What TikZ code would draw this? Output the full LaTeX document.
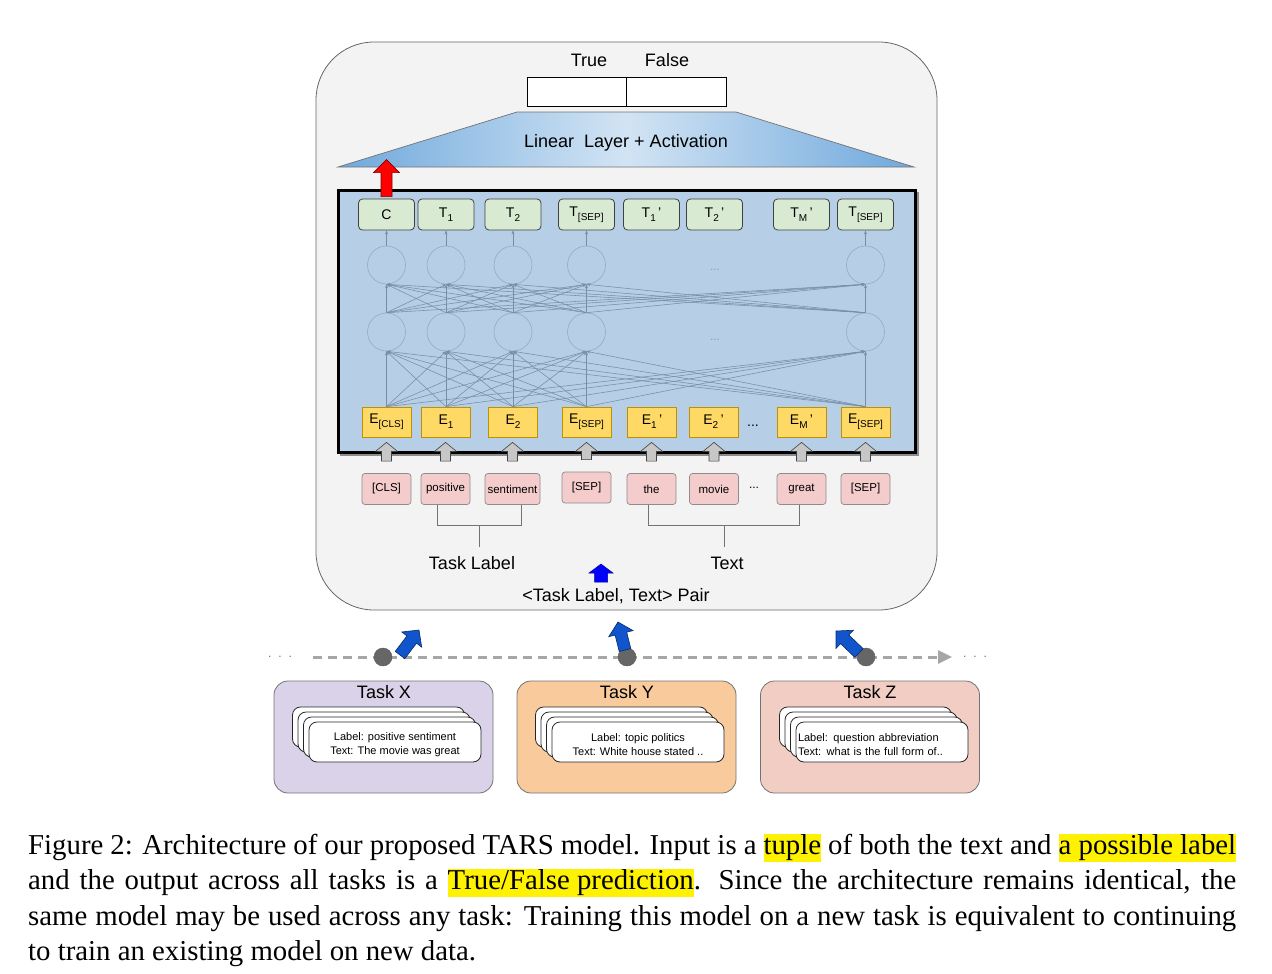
\documentclass[tikz,border=0pt]{standalone}
\usepackage{fontspec}
\setmainfont{Liberation Sans}
\newfontfamily\capfont{Liberation Serif}
\usetikzlibrary{calc,arrows.meta}
\definecolor{bgbox}{RGB}{243,243,243}
\definecolor{netblue}{RGB}{182,207,231}
\definecolor{trapdark}{RGB}{111,168,220}
\definecolor{traplight}{RGB}{210,228,244}
\definecolor{tgreen}{RGB}{217,234,211}
\definecolor{eyellow}{RGB}{255,217,102}
\definecolor{eborder}{RGB}{191,144,0}
\definecolor{tokpink}{RGB}{244,204,204}
\definecolor{netline}{RGB}{118,142,166}
\definecolor{taskx}{RGB}{217,210,233}
\definecolor{tasky}{RGB}{249,203,156}
\definecolor{taskz}{RGB}{242,205,196}
\definecolor{arrblue}{RGB}{17,85,204}
\definecolor{hlyellow}{RGB}{255,242,0}
\newcommand{\fsz}[2]{\fontsize{#1}{#2}\selectfont}
\newcommand{\sub}[1]{\raisebox{-4pt}{\fsz{10}{10}#1}}
\newcommand{\hlt}[1]{{\setlength{\fboxsep}{0pt}\colorbox{hlyellow}{\rule[-7.5pt]{0pt}{28pt}#1}}}
% #1 style, #2 tail, #3 tip, #4 shaft half width, #5 head half width, #6 head length
\newcommand{\fatarrow}[6]{%
  \coordinate (fahead) at ($(#3)!#6!(#2)$);
  \draw[#1] ($(#2)!#4!90:(#3)$) -- ($(fahead)!#4!90:(#3)$) -- ($(fahead)!#5!90:(#3)$)
    -- (#3) -- ($(fahead)!#5!-90:(#3)$) -- ($(fahead)!#4!-90:(#3)$) -- ($(#2)!#4!-90:(#3)$) -- cycle;
}
\tikzset{
  tbox/.style={rectangle, rounded corners=4pt, fill=tgreen, draw=black!75, line width=0.8pt,
    minimum width=56pt, minimum height=31pt, inner sep=0pt, font=\fsz{14}{16}},
  ebox/.style={rectangle, fill=eyellow, draw=eborder, line width=0.8pt,
    minimum width=49pt, minimum height=30pt, inner sep=0pt, font=\fsz{14}{16}},
  tok/.style={rectangle, rounded corners=3pt, fill=tokpink, draw=black!45, line width=0.7pt,
    minimum width=49pt, minimum height=31pt, inner sep=0pt, font=\fsz{11.5}{13}},
  neuron/.style={circle, minimum size=38pt, inner sep=0pt, draw=netline!75, line width=0.6pt},
  netedge/.style={draw=netline, line width=0.55pt, -{Stealth[length=4pt,width=3pt]}},
  grayarr/.style={fill=black!22, draw=black!75, line width=0.6pt},
  redarr/.style={fill=red, draw=red!50!black, line width=0.6pt},
  bluearr/.style={fill=arrblue, draw=arrblue!50!black, line width=0.6pt},
  purearr/.style={fill=blue, draw=blue!60!black, line width=0.5pt},
  bracket/.style={draw=black!55, line width=0.8pt},
  label/.style={inner sep=0pt, font=\fsz{18}{21}},
  taskbox/.style={rectangle, rounded corners=14pt, draw=black!55, line width=0.8pt,
    minimum width=219pt, minimum height=112pt},
  card/.style={rectangle, rounded corners=8pt, fill=white, draw=black!85, line width=0.8pt,
    minimum width=172pt, minimum height=40pt, inner sep=0pt, font=\fsz{11}{14}},
  tdot/.style={circle, fill=black!60, draw=black!65, minimum size=18pt, inner sep=0pt},
  dots/.style={inner sep=0pt, text=black!55, font=\fsz{12}{12}},
  capline/.style={anchor=base west, inner sep=0pt, font=\capfont\fsz{28.8}{35.5}}
}
\begin{document}
\begin{tikzpicture}[x=1pt, y=-1pt]
\useasboundingbox (0,0) rectangle (1272,974);
% main frame
\draw[fill=bgbox, draw=black!60, line width=0.8pt, rounded corners=58pt] (316,42) rectangle (937,610);
% output
\node[rectangle, draw=black, fill=white, line width=0.7pt, minimum width=99.5pt, minimum height=29pt, inner sep=0pt] (outT) at (576.75,91.5) {};
\node[rectangle, draw=black, fill=white, line width=0.7pt, minimum width=99.5pt, minimum height=29pt, inner sep=0pt] (outF) at (676.25,91.5) {};
\node[label] (lTrue) at (589,60) {True};
\node[label] (lFalse) at (667,60) {False};
% linear layer
\shade[left color=trapdark, right color=trapdark, middle color=traplight] (338,167) -- (517,112) -- (736,112) -- (914,167) -- cycle;
\draw[black!55, line width=0.7pt] (338,167) -- (517,112) -- (736,112) -- (914,167) -- cycle;
\node[label] (lin) at (626,143) {Linear\ \ Layer + Activation};
% network box
\draw[black!45, line width=2pt] (341,193) rectangle (918,455);
\draw[fill=netblue, draw=black, line width=3pt] (338,190) rectangle (915,452);
% T nodes
\node[tbox] (t1) at (386.5,214.5) {C};
\node[tbox] (t2) at (446,214.5) {T\sub{1}};
\node[tbox] (t3) at (513,214.5) {T\sub{2}};
\node[tbox] (t4) at (586.5,214.5) {T\sub{[SEP]}};
\node[tbox] (t5) at (651.5,214.5) {T\sub{1}\,'};
\node[tbox] (t6) at (714.5,214.5) {T\sub{2}\,'};
\node[tbox] (t7) at (801.5,214.5) {T\sub{M}\,'};
\node[tbox] (t8) at (865.5,214.5) {T\sub{[SEP]}};
% neurons
\foreach \i/\x in {1/386.5, 2/446, 3/513, 4/586.5, 8/865.5}{
  \node[neuron] (uc\i) at (\x,265) {};
  \node[neuron] (lc\i) at (\x,332) {};
}
\node[dots, text=black!40] (ndots1) at (715,270) {...};
\node[dots, text=black!40] (ndots2) at (715,340) {...};
% E nodes
\node[ebox] (e1) at (386.5,422) {E\sub{[CLS]}};
\node[ebox] (e2) at (446,422) {E\sub{1}};
\node[ebox] (e3) at (513,422) {E\sub{2}};
\node[ebox] (e4) at (586.5,422) {E\sub{[SEP]}};
\node[ebox] (e5) at (652,422) {E\sub{1}\,'};
\node[ebox] (e6) at (713.5,422) {E\sub{2}\,'};
\node[ebox] (e7) at (801.5,422) {E\sub{M}\,'};
\node[ebox] (e8) at (865.5,422) {E\sub{[SEP]}};
\node[inner sep=0pt, font=\fsz{14}{14}] (edots) at (753,426) {...};
% connections
\foreach \a in {1,2,3,4,8}{
  \foreach \b in {1,2,3,4,8}{
    \draw[netedge] (e\a.north) -- (lc\b.south);
    \draw[netedge] (lc\a.north) -- (uc\b.south);
  }
  \draw[netedge] (uc\a.north) -- (t\a.south);
}
% tokens
\node[tok] (k1) at (386.5,489) {[CLS]};
\node[tok] (k2) at (445.5,489) {positive};
\node[tok, minimum width=55pt] (k3) at (512.5,489) {sentiment};
\node[tok] (k4) at (586.5,487.5) {[SEP]};
\node[tok] (k5) at (651.5,489) {the};
\node[tok] (k6) at (714,489) {movie};
\node[tok] (k7) at (801.5,489) {great};
\node[tok] (k8) at (865.5,489) {[SEP]};
\node[inner sep=0pt, font=\fsz{12}{12}] (kdots) at (754,488) {...};
% gray arrows
\foreach \i in {1,...,8}{
  \coordinate (gt\i) at ($(k\i.north)+(0,-12)$);
  \coordinate (gp\i) at ($(gt\i |- e\i.south)+(0,5)$);
  \fatarrow{grayarr}{gt\i}{gp\i}{5pt}{11pt}{9pt}
}
% brackets
\node[label] (tasklabel) at (472,563) {Task Label};
\node[label] (textlabel) at (727,563) {Text};
\draw[bracket] ([xshift=-8.5pt]k2.south) -- ++(0,21) -| ([xshift=8.5pt]k3.south);
\coordinate (tlstem) at (479,526);
\draw[bracket] (tlstem) -- ++(0,21);
\draw[bracket] ([xshift=-3.5pt]k5.south) -- ++(0,21) -| ([xshift=-2.5pt]k7.south);
\coordinate (txstem) at (724,526);
\draw[bracket] (txstem) -- ++(0,21);
\node[label] (pair) at (616,596) {<Task Label, Text> Pair};
\coordinate (pairtail) at (601,582);
\coordinate (pairtip) at (601,564);
\fatarrow{purearr}{pairtail}{pairtip}{6.5pt}{12pt}{9pt}
% red arrow
\coordinate (redtail) at ($(t1.north)+(0,-2)$);
\coordinate (redtip) at ($(t1.north)+(0,-39)$);
\fatarrow{redarr}{redtail}{redtip}{5.5pt}{13pt}{13pt}
% timeline
\coordinate (tlstart) at (313,657);
\coordinate (tlend) at (952,657);
\draw[draw=black!35, line width=3pt, dash pattern=on 9pt off 6pt, -{Triangle[length=14pt,width=13pt]}] (tlstart) -- (tlend);
\node[dots] (ldots) at (280,657) {.\hspace{7pt}.\hspace{7pt}.};
\node[dots] (rdots) at (975,657) {.\hspace{7pt}.\hspace{7pt}.};
\node[tdot] (dx) at (383,657) {};
\node[tdot] (dy) at (627,657) {};
\node[tdot] (dz) at (866,657) {};
\coordinate (ax0) at (400,655); \coordinate (ax1) at (419,630);
\fatarrow{bluearr}{ax0}{ax1}{6pt}{12.5pt}{12pt}
\coordinate (ay0) at (625,650); \coordinate (ay1) at (618,622);
\fatarrow{bluearr}{ay0}{ay1}{6pt}{12.5pt}{12pt}
\coordinate (az0) at (859,653); \coordinate (az1) at (836,631);
\fatarrow{bluearr}{az0}{az1}{6pt}{12.5pt}{12pt}
% task boxes
\node[taskbox, fill=taskx] (taskX) at (383.5,737) {};
\node[taskbox, fill=tasky] (taskY) at (626.5,737) {};
\node[taskbox, fill=taskz] (taskZ) at (870,737) {};
\node[label] (titleX) at (384,692) {Task X};
\node[label] (titleY) at (627,692) {Task Y};
\node[label] (titleZ) at (870,692) {Task Z};
\foreach \c/\x in {X/395, Y/638, Z/882}{
  \node[card] (card\c3) at (\x-16.5,727) {};
  \node[card] (card\c2) at (\x-11,732) {};
  \node[card] (card\c1) at (\x-5.5,737) {};
}
\node[card, align=center] (cardX) at (395,742) {\rule{0pt}{13pt}Label: positive sentiment\\Text: The movie was great};
\node[card, align=center] (cardY) at (638,742) {\rule{0pt}{13pt}Label: topic politics\\Text: White house stated ..};
\node[card, align=left, text width=168pt, inner xsep=2pt] (cardZ) at (882,742) {\rule{0pt}{13pt}Label: question abbreviation\\Text: what is the full form of..};
% caption
\node[capline] (cap1) at (28,854) {\makebox[1208pt][s]{Figure 2: Architecture of our proposed TARS model. Input is a \hlt{tuple} of both the text and \hlt{a possible label}}};
\node[capline] (cap2) at (28,889.5) {\makebox[1208pt][s]{and the output across all tasks is a \hlt{True/False prediction}. Since the architecture remains identical, the}};
\node[capline] (cap3) at (28,925) {\makebox[1208pt][s]{same model may be used across any task: Training this model on a new task is equivalent to continuing}};
\node[capline] (cap4) at (28,960.5) {to train an existing model on new data.};
\end{tikzpicture}
\end{document}
